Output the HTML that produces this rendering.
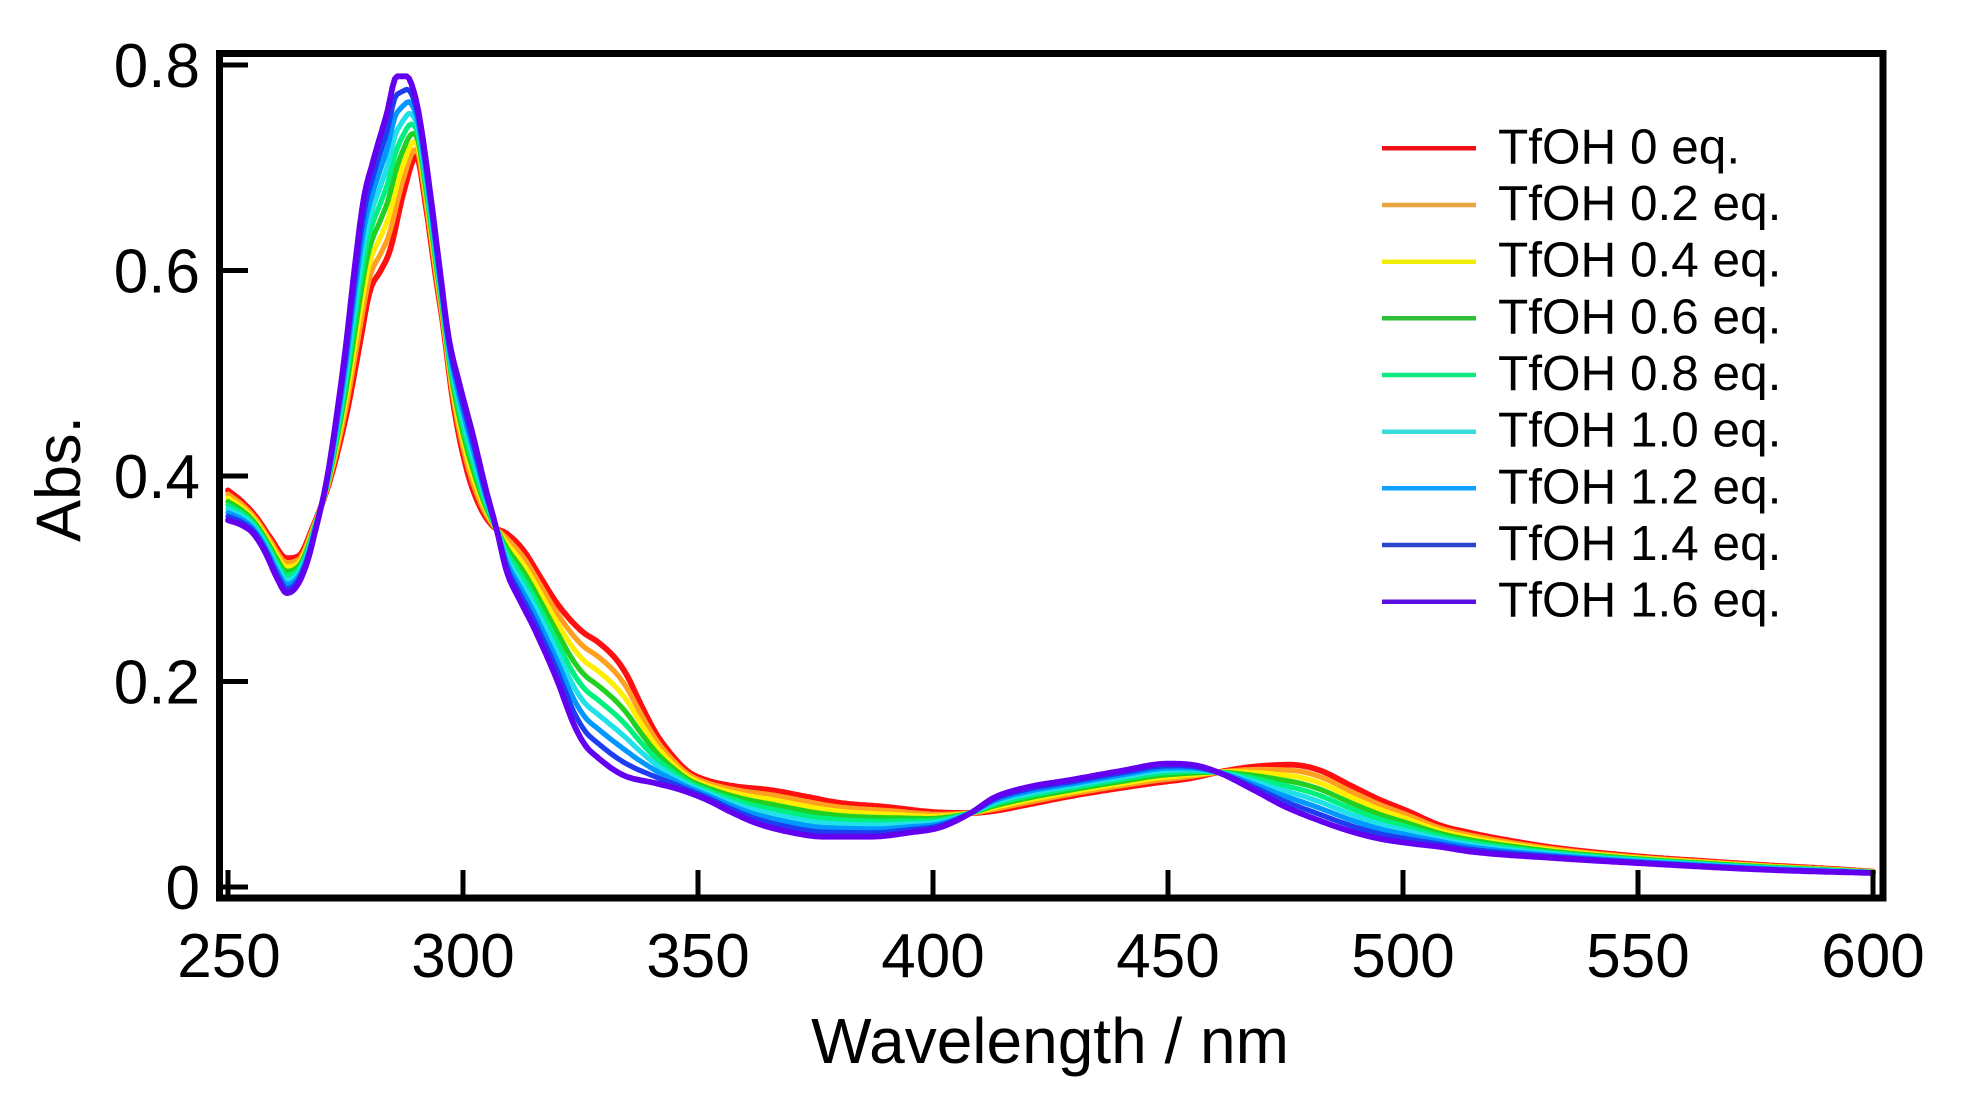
<!DOCTYPE html>
<html>
<head>
<meta charset="utf-8">
<style>
  html, body { margin: 0; padding: 0; background: #ffffff; }
  svg { display: block; }
  text { font-family: "Liberation Sans", Arial, sans-serif; fill: #000; }
</style>
</head>
<body>
<svg id="chart" width="1971" height="1101" viewBox="0 0 1971 1101" xmlns="http://www.w3.org/2000/svg">
  <rect x="0" y="0" width="1971" height="1101" fill="#ffffff"/>
  <g id="series" fill="none" stroke-linejoin="round" stroke-linecap="round"></g>

  <!-- frame -->
  <rect x="219.5" y="53.5" width="1663.5" height="844.5" fill="none" stroke="#000" stroke-width="7"/>

  <!-- y ticks -->
  <g stroke="#000" stroke-width="5">
    <line x1="223" y1="887" x2="248" y2="887"/>
    <line x1="223" y1="681.5" x2="248" y2="681.5"/>
    <line x1="223" y1="476" x2="248" y2="476"/>
    <line x1="223" y1="270.5" x2="248" y2="270.5"/>
    <line x1="223" y1="65" x2="248" y2="65"/>
  </g>
  <!-- x ticks -->
  <g stroke="#000" stroke-width="5">
    <line x1="228" y1="870" x2="228" y2="895"/>
    <line x1="463" y1="870" x2="463" y2="895"/>
    <line x1="698" y1="870" x2="698" y2="895"/>
    <line x1="933" y1="870" x2="933" y2="895"/>
    <line x1="1168" y1="870" x2="1168" y2="895"/>
    <line x1="1403" y1="870" x2="1403" y2="895"/>
    <line x1="1638" y1="870" x2="1638" y2="895"/>
    <line x1="1873" y1="870" x2="1873" y2="895"/>
  </g>

  <!-- y tick labels -->
  <g font-size="62" text-anchor="end">
    <text x="200" y="909">0</text>
    <text x="200" y="703.5">0.2</text>
    <text x="200" y="498">0.4</text>
    <text x="200" y="292.5">0.6</text>
    <text x="200" y="87">0.8</text>
  </g>
  <!-- x tick labels -->
  <g font-size="62" text-anchor="middle">
    <text x="229" y="977">250</text>
    <text x="463" y="977">300</text>
    <text x="698" y="977">350</text>
    <text x="933" y="977">400</text>
    <text x="1168" y="977">450</text>
    <text x="1403" y="977">500</text>
    <text x="1638" y="977">550</text>
    <text x="1873" y="977">600</text>
  </g>

  <!-- axis titles -->
  <text x="1050" y="1063" font-size="64" text-anchor="middle">Wavelength / nm</text>
  <text x="0" y="0" font-size="63" text-anchor="middle" transform="translate(80,479) rotate(-90)">Abs.</text>

  <!-- legend -->
  <g stroke-width="4.5">
    <line x1="1382" y1="148.3" x2="1476" y2="148.3" stroke="#f01018"/>
    <line x1="1382" y1="205" x2="1476" y2="205" stroke="#e8a640"/>
    <line x1="1382" y1="261.7" x2="1476" y2="261.7" stroke="#f0ee00"/>
    <line x1="1382" y1="318.3" x2="1476" y2="318.3" stroke="#30c038"/>
    <line x1="1382" y1="375" x2="1476" y2="375" stroke="#10e880"/>
    <line x1="1382" y1="431.7" x2="1476" y2="431.7" stroke="#38dcd8"/>
    <line x1="1382" y1="488.3" x2="1476" y2="488.3" stroke="#10a0ff"/>
    <line x1="1382" y1="545" x2="1476" y2="545" stroke="#2a46cc"/>
    <line x1="1382" y1="601.7" x2="1476" y2="601.7" stroke="#5a10e0"/>
  </g>
  <g font-size="49.5">
    <text x="1498" y="163.3">TfOH 0 eq.</text>
    <text x="1498" y="220">TfOH 0.2 eq.</text>
    <text x="1498" y="276.7">TfOH 0.4 eq.</text>
    <text x="1498" y="333.3">TfOH 0.6 eq.</text>
    <text x="1498" y="390">TfOH 0.8 eq.</text>
    <text x="1498" y="446.7">TfOH 1.0 eq.</text>
    <text x="1498" y="503.3">TfOH 1.2 eq.</text>
    <text x="1498" y="560">TfOH 1.4 eq.</text>
    <text x="1498" y="616.7">TfOH 1.6 eq.</text>
  </g>
</svg>
<script>
(function(){
  var R = [
    [250,0.386],[253,0.375],[256,0.36],[259,0.34],[262.5,0.32],[265,0.322],[268,0.35],
    [271.7,0.396],[275.3,0.462],[277.7,0.52],[280.2,0.58],[282.5,0.60],[284.5,0.62],
    [287.3,0.675],[290.1,0.711],[292,0.665],[294,0.60],[295.8,0.545],[297.9,0.471],
    [300.8,0.406],[303.6,0.37],[306.4,0.351],[309.3,0.344],[312.8,0.328],[316.4,0.302],
    [320,0.276],[325,0.25],[329.1,0.237],[332.7,0.221],[335,0.205],[337.7,0.179],
    [341,0.15],[344.7,0.127],[348,0.112],[351.8,0.104],[358,0.098],[366,0.094],
    [373,0.088],[380,0.082],[390,0.078],[400,0.073],[408,0.072],[413,0.074],[420,0.08],
    [430,0.089],[446.8,0.101],[455,0.106],[461,0.112],[468,0.117],[476,0.119],[482,0.114],
    [489.4,0.0975],[495,0.085],[500.9,0.074],[507.9,0.06],[514.5,0.0525],[523,0.045],
    [532.7,0.038],[550.9,0.0295],[565,0.025],[578.2,0.021],[590,0.018],[600,0.015]
  ];
  var V = [
    [250,0.357],[253,0.352],[255.4,0.344],[258,0.325],[260.5,0.30],[262.5,0.286],
    [264.5,0.292],[266.7,0.314],[268.5,0.345],[271,0.396],[273,0.455],[274.9,0.52],
    [277,0.605],[278.8,0.668],[280.9,0.707],[283.8,0.753],[285.9,0.789],[288,0.789],
    [289.5,0.775],[290.85,0.746],[293.3,0.666],[295.1,0.60],[296.9,0.536],[299.4,0.487],
    [302.2,0.438],[304.7,0.39],[307.2,0.347],[309.3,0.307],[312,0.28],[315,0.253],
    [320,0.2015],[323.5,0.159],[326,0.138],
    [328.4,0.127],[334,0.109],[341,0.101],[346,0.095],[351.8,0.085],[357,0.073],
    [362.5,0.062],[370,0.053],[376.6,0.049],[387,0.049],[395,0.053],[401.5,0.058],
    [408,0.072],[413,0.087],[420,0.097],[429,0.104],[440,0.113],[449.8,0.12],[455,0.119],
    [461,0.111],[468,0.095],[475,0.078],[482,0.065],[489,0.054],[495,0.047],[501,0.0428],
    [508,0.039],[514.5,0.0344],[532.7,0.028],[551,0.023],[578,0.0166],[600,0.0136]
  ];
  function mono(pts){
    var n=pts.length, xs=[], ys=[], i;
    for(i=0;i<n;i++){xs.push(pts[i][0]);ys.push(pts[i][1]);}
    var m=[], t=[];
    for(i=0;i<n-1;i++) m.push((ys[i+1]-ys[i])/(xs[i+1]-xs[i]));
    t[0]=m[0]; t[n-1]=m[n-2];
    for(i=1;i<n-1;i++){ t[i] = (m[i-1]*m[i]<=0) ? 0 : (m[i-1]+m[i])/2; }
    for(i=0;i<n-1;i++){
      if(m[i]===0){t[i]=0;t[i+1]=0;continue;}
      var a=t[i]/m[i], b=t[i+1]/m[i], s=a*a+b*b;
      if(s>9){var tau=3/Math.sqrt(s); t[i]=tau*a*m[i]; t[i+1]=tau*b*m[i];}
    }
    return function(x){
      if(x<=xs[0]) return ys[0];
      if(x>=xs[n-1]) return ys[n-1];
      var k=0; while(k<n-2 && x>xs[k+1]) k++;
      var h=xs[k+1]-xs[k], s=(x-xs[k])/h, s2=s*s, s3=s2*s;
      return (2*s3-3*s2+1)*ys[k] + (s3-2*s2+s)*h*t[k] + (-2*s3+3*s2)*ys[k+1] + (s3-s2)*h*t[k+1];
    };
  }
  var fr=mono(R), fv=mono(V);
  var colors=["#ff1010","#ffa020","#ffee00","#22d022","#00f080","#20e0e8","#0098ff","#1e3cf0","#6400f0"];
  var g=document.getElementById("series");
  var ns="http://www.w3.org/2000/svg";
  for(var c=0;c<9;c++){
    var tt=c/8, d="";
    for(var L=250; L<=600.001; L+=0.5){
      var A=(1-tt)*fr(L)+tt*fv(L);
      var X=228+(L-250)*4.7, Y=887-A*1027.5;
      d += (d?"L":"M")+X.toFixed(1)+" "+Y.toFixed(1);
    }
    var p=document.createElementNS(ns,"path");
    p.setAttribute("d",d);
    p.setAttribute("stroke",colors[c]);
    p.setAttribute("stroke-width", (c===0||c===8)?"5.8":"5.2");
    g.appendChild(p);
  }
})();
</script>
</body>
</html>
